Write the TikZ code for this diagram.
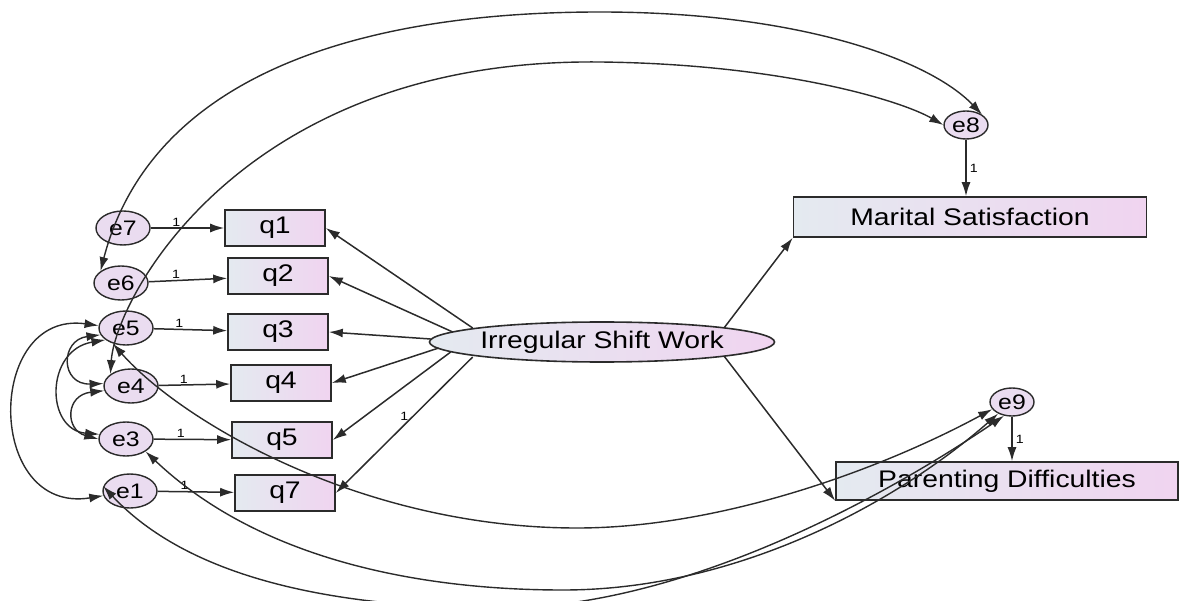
\documentclass[tikz,border=0pt]{standalone}
\usepackage{fontspec}
\setmainfont[FakeStretch=1.18]{Liberation Sans}
\usetikzlibrary{positioning,arrows.meta,shapes.geometric}
\definecolor{edgegrey}{HTML}{2B2B2B}
\definecolor{paleblue}{HTML}{E4EAF0}
\definecolor{palepink}{HTML}{F0D4F0}
\definecolor{errfill}{HTML}{EADCF0}
\tikzset{
  obs/.style={rectangle, draw=edgegrey, line width=1.6pt, left color=paleblue,
              right color=palepink, minimum width=#1, minimum height=36pt,
              inner sep=0pt, font=\fontsize{24}{26}\selectfont},
  obs/.default=100pt,
  err/.style={ellipse, draw=edgegrey, line width=1.4pt, fill=errfill,
              minimum width=54pt, minimum height=34pt, inner sep=0pt,
              font=\fontsize{21}{23}\selectfont},
  lat/.style={ellipse, draw=edgegrey, line width=1.6pt, left color=paleblue,
              right color=palepink, minimum width=345pt, minimum height=40pt,
              inner sep=0pt, font=\fontsize{24}{26}\selectfont},
  ar/.style={-{Latex[length=14pt,width=9pt]}, line width=1.5pt, draw=edgegrey},
  cov/.style={{Latex[length=14pt,width=9pt]}-{Latex[length=14pt,width=9pt]},
              line width=1.4pt, draw=edgegrey},
  one/.style={font=\fontsize{12}{13}\selectfont, inner sep=1pt},
}
\begin{document}
\begin{tikzpicture}[x=1pt, y=-1pt]
  \useasboundingbox (0,0) rectangle (1180,601);

  % error terms
  \node[err] (e7) at (123,228) {e7};
  \node[err] (e6) at (121,283) {e6};
  \node[err] (e5) at (126,328) {e5};
  \node[err] (e4) at (131,386) {e4};
  \node[err] (e3) at (126,439) {e3};
  \node[err] (e1) at (130,491) {e1};
  \node[err, minimum width=44pt, minimum height=28pt] (e8) at (966,125) {e8};
  \node[err, minimum width=44pt, minimum height=28pt] (e9) at (1012,402) {e9};

  % observed items and outcomes
  \node[obs] (q1) at (275,228) {q1};
  \node[obs] (q2) at (278,276) {q2};
  \node[obs] (q3) at (278,332) {q3};
  \node[obs] (q4) at (281,383) {q4};
  \node[obs] (q5) at (282,440) {q5};
  \node[obs] (q7) at (285,493) {q7};
  \node[obs=353pt, minimum height=40pt] (ms) at (970,217) {Marital Satisfaction};
  \node[obs=342pt, minimum height=38pt] (pd) at (1007,481) {Parenting Difficulties};

  % latent factor
  \node[lat] (isw) at (602,342) {Irregular Shift Work};
  \coordinate (iswq1) at ([xshift=44pt, yshift=14pt]isw.west);
  \coordinate (iswq2) at ([xshift=24pt, yshift=10pt]isw.west);
  \coordinate (iswq3) at ([xshift=2pt, yshift=3pt]isw.west);
  \coordinate (iswq4) at ([xshift=10pt, yshift=-6pt]isw.west);
  \coordinate (iswq5) at ([xshift=22pt, yshift=-10pt]isw.west);
  \coordinate (iswq7) at ([xshift=44pt, yshift=-15pt]isw.west);

  % loadings
  \foreach \e/\q in {e7/q1,e6/q2,e5/q3,e4/q4,e3/q5,e1/q7}
    \draw[ar] (\e) -- node[one, pos=0.35, above]{1} (\q);
  \foreach \q in {q1,q2,q3,q4,q5}
    \draw[ar] (isw\q) -- (\q.east);
  \draw[ar] (iswq7) -- node[one, pos=0.5, above=3pt]{1} (q7.east);

  % structural paths
  \draw[ar] (isw.north east) -- (ms.south west);
  \draw[ar] (isw.south east) -- (pd.south west);
  \draw[ar] (e8) -- node[one, right=2pt]{1} (e8 |- ms.north);
  \draw[ar] (e9) -- node[one, right=2pt]{1} (e9 |- pd.north);

  % covariances
  \draw[cov] (e6.150) .. controls (150,80) and (350,12) .. (600,12)
                      .. controls (800,12) and (930,60) .. (e8.north east);
  \draw[cov] (e4.150) .. controls (115,300) and (240,58) .. (600,62)
                      .. controls (780,64) and (900,100) .. (e8.west);
  \draw[cov] (e5.230) .. controls (180,420) and (360,528) .. (577,528)
                      .. controls (720,528) and (880,470) .. (e9.200);
  \draw[cov] (e3.south east) .. controls (260,560) and (420,590) .. (563,590)
                      .. controls (740,590) and (900,500) .. (e9.220);
  \draw[cov] (e1.170) .. controls (200,590) and (370,608) .. (500,608)
                      .. controls (680,608) and (880,500) .. (e9.240);
  \draw[cov] (e5.175) .. controls (-15,310) and (-15,515) .. (e1.190);
  \draw[cov] (e5.195) .. controls (60,340) and (60,385) .. (e4.175);
  \draw[cov] (e5.210) .. controls (45,350) and (45,430) .. (e3.170);
  \draw[cov] (e4.190) .. controls (65,395) and (65,430) .. (e3.180);
\end{tikzpicture}
\end{document}
